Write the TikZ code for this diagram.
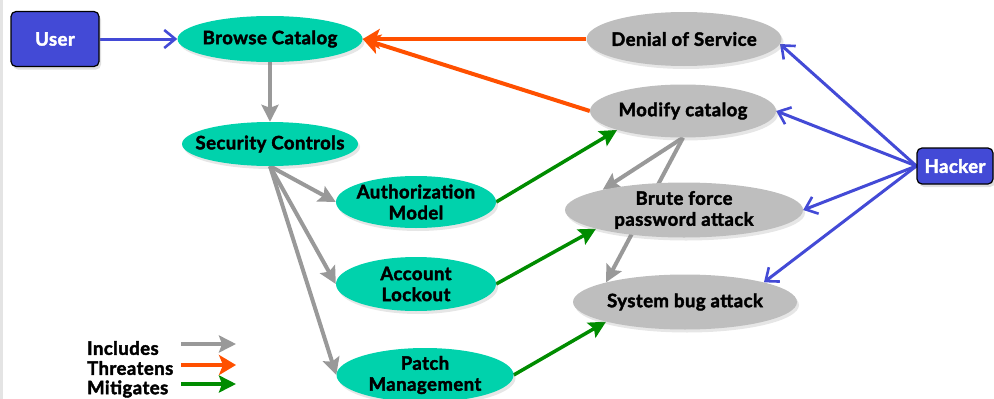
\documentclass[tikz,border=0pt]{standalone}
\usepackage{fontspec}
\setmainfont{Lato}[BoldFeatures={FakeBold=2.2,LetterSpace=2.5}]
\usetikzlibrary{arrows.meta,shapes.geometric,shadows}
\definecolor{actorblue}{RGB}{67,74,214}
\definecolor{ctrlteal}{RGB}{0,210,172}
\definecolor{threatgray}{RGB}{190,190,190}
\definecolor{inclgray}{RGB}{153,153,153}
\definecolor{threatorange}{RGB}{255,80,0}
\definecolor{mitgreen}{RGB}{0,140,0}
\definecolor{edgegray}{RGB}{228,228,228}
\pgfdeclarelayer{background}
\pgfsetlayers{background,main}
\tikzset{
  lbl/.style={font=\fontsize{18.5}{21}\selectfont\bfseries},
  actor/.style={lbl, rectangle, rounded corners=5pt, draw=black, line width=1.2pt,
    fill=actorblue, text=white, inner sep=0pt,
    drop shadow={shadow xshift=2pt,shadow yshift=-3pt,opacity=0.25}},
  % negative inner sep keeps the ellipse at its minimum size
  usecase/.style={lbl, ellipse, inner xsep=-45pt, inner ysep=-18pt, align=center,
    drop shadow={shadow xshift=2pt,shadow yshift=-3pt,opacity=0.2}},
  control/.style={usecase, fill=ctrlteal},
  threat/.style={usecase, fill=threatgray},
  uses/.style={draw=actorblue, line width=3pt,
    -{Straight Barb[length=11pt,width=18pt,line width=2.6pt]}},
  includes/.style={draw=inclgray, line width=4pt,
    -{Stealth[length=17pt,width=17pt,inset=3pt]}},
  threatens/.style={draw=threatorange, line width=4pt,
    -{Stealth[length=17pt,width=20pt,inset=4pt]}},
  mitigates/.style={draw=mitgreen, line width=3.5pt,
    -{Stealth[length=17pt,width=17pt,inset=3pt]}},
  legendtext/.style={lbl, anchor=west, inner sep=0pt},
}
\begin{document}
\begin{tikzpicture}[x=1pt,y=-1pt]
\useasboundingbox (0,0) rectangle (994,399);
\fill[edgegray] (0,0) rectangle (3,399);

% actors
\node[actor, minimum width=88pt, minimum height=55pt] (user) at (55,39) {User};
\node[actor, minimum width=76pt, minimum height=36pt] (hacker) at (955,166) {Hacker};

% security controls
\node[control, minimum width=185pt, minimum height=46pt] (browse) at (270,39) {Browse Catalog};
\node[control, minimum width=176pt, minimum height=44pt] (secctl) at (270,144) {Security Controls};
\node[control, minimum width=160pt, minimum height=52pt] (authz) at (416,202) {Authorization\\Model};
\node[control, minimum width=160pt, minimum height=54pt] (lockout) at (416,284) {Account\\Lockout};
\node[control, minimum width=177pt, minimum height=54pt] (patch) at (425,375) {Patch\\Management};

% threats
\node[threat, minimum width=195pt, minimum height=54pt] (dos) at (684,39) {Denial of Service};
\node[threat, minimum width=186pt, minimum height=53pt] (modify) at (683,111) {Modify catalog};
\node[threat, minimum width=238pt, minimum height=55pt] (brute) at (684,210) {Brute force\\password attack};
\node[threat, minimum width=224pt, minimum height=55pt] (sysbug) at (685,302) {System bug attack};

% legend
\node[legendtext] (lgincl) at (87,348) {Includes};
\node[legendtext] (lgthr) at (87,368) {Threatens};
\node[legendtext] (lgmit) at (87,389) {Mitigates};
\coordinate (li0) at (181,344); \coordinate (li1) at (236,344);
\coordinate (lt0) at (181,365); \coordinate (lt1) at (236,365);
\coordinate (lm0) at (181,384); \coordinate (lm1) at (236,384);

\begin{pgfonlayer}{background}
  % actor associations
  \draw[uses] (user.east) -- (browse.west);
  \draw[uses] (hacker.west) -- (dos.-3);
  \draw[uses] (hacker.west) -- (modify.east);
  \draw[uses] (hacker.west) -- (brute.east);
  \draw[uses] (hacker.west) -- (sysbug.14);
  % includes
  \draw[includes] (browse.south) -- (secctl.north);
  \draw[includes] (secctl.south) -- (authz.west);
  \draw[includes] (secctl.south) -- (lockout.west);
  \draw[includes] (secctl.south) -- (patch.west);
  \draw[includes] (modify.south) -- (brute.166);
  \draw[includes] (modify.south) -- (sysbug.166);
  % threatens
  \draw[threatens] (dos.west) -- (browse.east);
  \draw[threatens] (modify.west) -- (browse.east);
  % mitigates
  \draw[mitigates] (authz.east) -- (modify.196);
  \draw[mitigates] (lockout.east) -- (brute.192.6);
  \draw[mitigates] (patch.east) -- (sysbug.194);
\end{pgfonlayer}

% legend arrows
\draw[includes] (li0) -- (li1);
\draw[threatens] (lt0) -- (lt1);
\draw[mitigates] (lm0) -- (lm1);
\end{tikzpicture}
\end{document}
